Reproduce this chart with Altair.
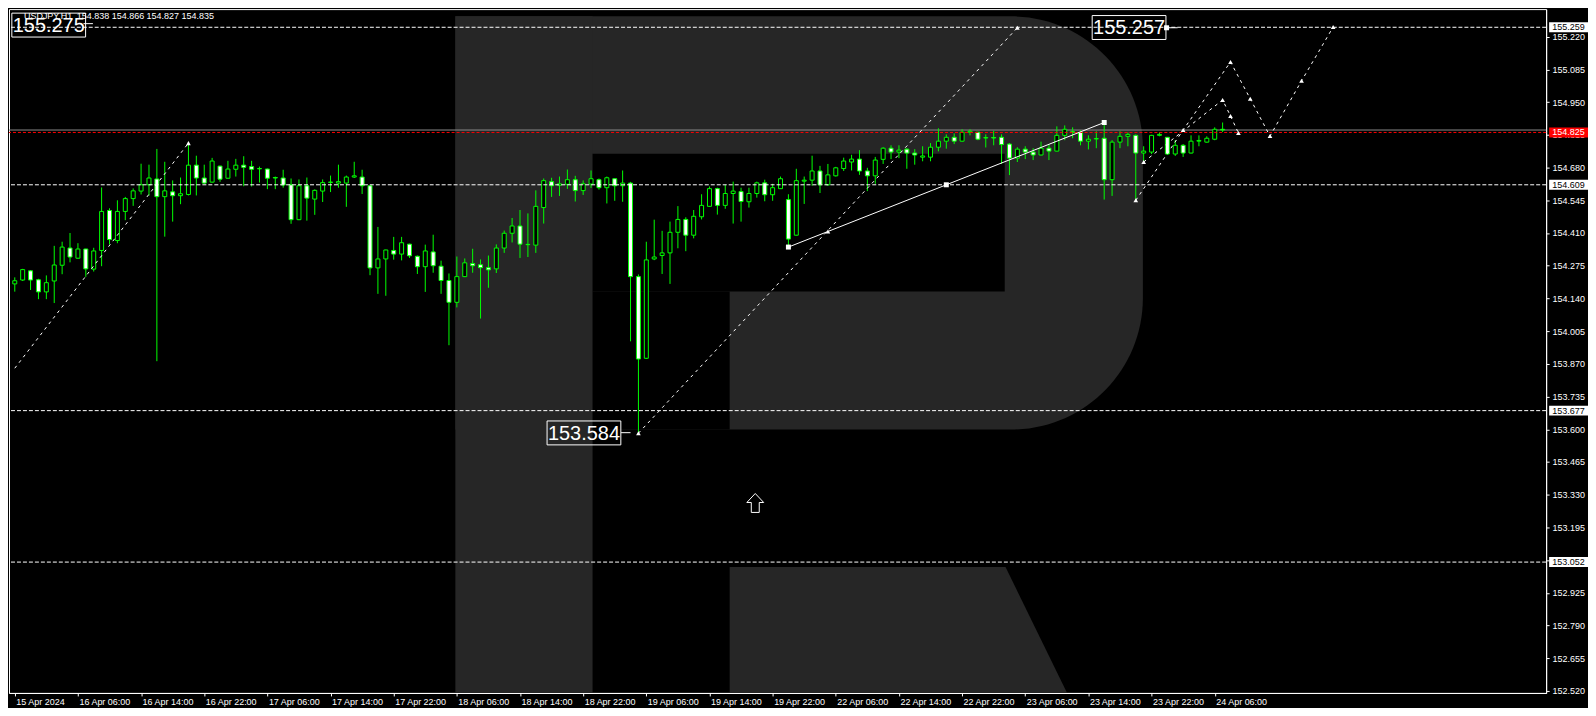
import altair as alt
import pandas as pd

# ---------------- data ----------------
opens = [154.200,154.216,154.254,154.217,154.167,154.212,154.277,154.348,154.306,154.344,
         154.261,154.338,154.503,154.379,154.499,154.552,154.583,154.609,154.633,154.560,
         154.580,154.564,154.569,154.690,154.637,154.620,154.686,154.636,154.673,154.690,
         154.684,154.676,154.674,154.639,154.637,154.609,154.465,154.605,154.550,154.583,
         154.620,154.616,154.616,154.641,154.641,154.605,154.266,154.303,154.338,154.323,
         154.364,154.314,154.271,154.332,154.273,154.214,154.124,154.230,154.284,154.279,
         154.267,154.262,154.348,154.409,154.439,154.362,154.360,154.515,154.622,154.607,
         154.611,154.630,154.585,154.612,154.630,154.597,154.634,154.605,154.616,154.230,
         153.893,154.303,154.317,154.328,154.413,154.466,154.401,154.477,154.520,154.593,
         154.524,154.573,154.581,154.539,154.573,154.617,154.568,154.593,154.548,154.401,
         154.624,154.628,154.666,154.609,154.646,154.676,154.703,154.715,154.666,154.646,
         154.714,154.760,154.744,154.756,154.740,154.723,154.723,154.764,154.789,154.805,
         154.789,154.826,154.826,154.802,154.804,154.805,154.777,154.719,154.756,154.744,
         154.732,154.760,154.748,154.813,154.828,154.825,154.789,154.798,154.801,154.630,
         154.785,154.809,154.813,154.740,154.744,154.813,154.805,154.736,154.772,154.740,
         154.789,154.785,154.797,154.838]
highs = [154.227,154.262,154.257,154.221,154.235,154.357,154.374,154.410,154.368,154.345,
         154.349,154.598,154.512,154.545,154.559,154.594,154.696,154.692,154.757,154.704,
         154.627,154.639,154.776,154.729,154.692,154.720,154.688,154.708,154.716,154.727,
         154.708,154.684,154.676,154.643,154.671,154.635,154.631,154.639,154.590,154.631,
         154.647,154.692,154.647,154.704,154.671,154.607,154.435,154.341,154.394,154.394,
         154.366,154.317,154.362,154.403,154.296,154.243,154.313,154.305,154.345,154.301,
         154.317,154.363,154.420,154.472,154.505,154.491,154.586,154.635,154.638,154.643,
         154.672,154.646,154.627,154.668,154.635,154.643,154.635,154.668,154.621,154.239,
         154.374,154.465,154.419,154.457,154.521,154.475,154.505,154.570,154.602,154.597,
         154.609,154.622,154.597,154.597,154.622,154.630,154.613,154.643,154.570,154.675,
         154.643,154.729,154.687,154.695,154.683,154.721,154.733,154.752,154.679,154.724,
         154.764,154.772,154.772,154.760,154.756,154.768,154.781,154.842,154.817,154.821,
         154.838,154.838,154.827,154.817,154.832,154.817,154.781,154.764,154.768,154.760,
         154.787,154.777,154.850,154.854,154.846,154.834,154.813,154.830,154.874,154.793,
         154.830,154.825,154.817,154.768,154.815,154.825,154.806,154.793,154.777,154.813,
         154.813,154.809,154.846,154.866]
lows = [154.168,154.212,154.175,154.137,154.137,154.121,154.240,154.289,154.304,154.229,
        154.251,154.273,154.363,154.368,154.463,154.522,154.569,154.564,153.881,154.395,
        154.457,154.529,154.565,154.565,154.613,154.618,154.621,154.635,154.643,154.603,
        154.602,154.618,154.591,154.591,154.597,154.448,154.463,154.461,154.485,154.538,
        154.579,154.597,154.518,154.637,154.571,154.236,154.159,154.151,154.300,154.297,
        154.307,154.241,154.167,154.246,154.159,153.947,154.103,154.228,154.246,154.057,
        154.184,154.245,154.328,154.371,154.307,154.311,154.328,154.449,154.559,154.563,
        154.592,154.540,154.567,154.596,154.589,154.532,154.543,154.539,153.963,153.584,
        153.890,154.298,154.241,154.200,154.347,154.335,154.388,154.466,154.518,154.486,
        154.510,154.449,154.457,154.515,154.556,154.541,154.543,154.592,154.355,154.400,
        154.530,154.605,154.575,154.605,154.643,154.666,154.668,154.650,154.583,154.613,
        154.695,154.715,154.719,154.675,154.692,154.706,154.706,154.747,154.758,154.777,
        154.787,154.813,154.793,154.763,154.772,154.695,154.649,154.703,154.715,154.711,
        154.730,154.711,154.747,154.793,154.801,154.772,154.755,154.760,154.548,154.563,
        154.760,154.768,154.545,154.703,154.736,154.809,154.732,154.728,154.724,154.738,
        154.768,154.783,154.793,154.827]
closes = [154.213,154.259,154.216,154.167,154.205,154.278,154.352,154.311,154.344,154.262,
          154.336,154.499,154.383,154.499,154.552,154.584,154.609,154.637,154.560,154.584,
          154.564,154.572,154.690,154.637,154.616,154.707,154.632,154.674,154.690,154.681,
          154.673,154.675,154.636,154.637,154.608,154.465,154.605,154.554,154.586,154.618,
          154.619,154.622,154.641,154.646,154.605,154.266,154.303,154.340,154.323,154.370,
          154.316,154.271,154.336,154.275,154.214,154.124,154.230,154.287,154.275,154.267,
          154.258,154.348,154.409,154.439,154.364,154.363,154.520,154.626,154.605,154.613,
          154.630,154.585,154.613,154.634,154.597,154.638,154.605,154.616,154.230,153.890,
          154.299,154.311,154.328,154.413,154.466,154.401,154.479,154.524,154.593,154.524,
          154.573,154.583,154.540,154.573,154.617,154.568,154.597,154.634,154.385,154.626,
          154.628,154.666,154.609,154.650,154.679,154.707,154.715,154.666,154.646,154.711,
          154.760,154.744,154.752,154.740,154.732,154.728,154.764,154.789,154.805,154.789,
          154.826,154.830,154.797,154.804,154.802,154.775,154.719,154.756,154.744,154.732,
          154.760,154.748,154.813,154.838,154.825,154.789,154.797,154.800,154.630,154.785,
          154.809,154.817,154.740,154.748,154.813,154.817,154.736,154.772,154.740,154.789,
          154.792,154.801,154.838,154.835]
bar_index = list(range(len(opens)))

x_tick_values = [0, 8, 16, 24, 32, 40, 48, 56, 64, 72, 80, 88, 96, 104, 112, 120, 128, 136, 144, 152]
x_tick_labels = ["15 Apr 2024", "16 Apr 06:00", "16 Apr 14:00", "16 Apr 22:00", "17 Apr 06:00",
                 "17 Apr 14:00", "17 Apr 22:00", "18 Apr 06:00", "18 Apr 14:00", "18 Apr 22:00",
                 "19 Apr 06:00", "19 Apr 14:00", "19 Apr 22:00", "22 Apr 06:00", "22 Apr 14:00",
                 "22 Apr 22:00", "23 Apr 06:00", "23 Apr 14:00", "23 Apr 22:00", "24 Apr 06:00"]
y_tick_values = [152.520, 152.655, 152.790, 152.925, 153.060, 153.195, 153.330, 153.465, 153.600,
                 153.735, 153.870, 154.005, 154.140, 154.275, 154.410, 154.545, 154.680, 154.815,
                 154.950, 155.085, 155.220]

level_values = [155.259, 154.609, 153.677, 153.052]
level_labels = ["155.259", "154.609", "153.677", "153.052"]
bid_value = 154.835
ask_value = 154.825
ask_label = "154.825"

header_symbol = "USDJPY,H1"
header_ohlc = "154.838 154.866 154.827 154.835"

# dashed trend / forecast lines (bar index, price)
dash_seg = ["a", "a", "b", "b",
            "c", "c", "c", "c", "c", "c", "c",
            "d", "d", "d", "d"]
dash_x = [0, 22, 79, 127,
          142, 148, 154, 156.5, 159, 163, 167,
          143, 153, 154, 155]
dash_y = [153.852, 154.781, 153.584, 155.257,
          154.545, 154.835, 155.116, 154.964, 154.810, 155.038, 155.260,
          154.703, 154.959, 154.893, 154.823]
solid_x = [98, 118, 138]
solid_y = [154.352, 154.609, 154.866]

arrow_x = [22, 79, 127, 103, 142, 143, 148, 154, 153, 154, 155, 156.5, 159, 163, 167]
arrow_y = [154.781, 153.584, 155.257, 154.416, 154.545, 154.703, 154.835, 155.116, 154.959,
           154.893, 154.823, 154.964, 154.810, 155.038, 155.260]
square_x = [98, 118, 138, 145.9]
square_y = [154.352, 154.609, 154.866, 155.257]

big_label_text = ["155.275", "155.257", "153.584"]
big_label_x = [4.3, 141.15, 72.1]
big_label_y = [155.268, 155.258, 153.585]
conn_x1 = [8.7, 145.8, 76.8]
conn_x2 = [9.9, 147.3, 78.0]
conn_y = [155.274, 155.257, 153.586]

up_arrow_x = [93.8]
up_arrow_y = [153.296]

# background "R" watermark, in chart coordinates
logo_stem = dict(x1=[55.81], x2=[73.19], y1=[152.512], y2=[155.304])
logo_bowl = dict(x1=[55.81], x2=[142.9], y1=[153.599], y2=[155.304])
logo_holes = dict(x1=[73.19, 73.19], x2=[125.4, 90.56], y1=[154.169, 153.599], y2=[154.737, 154.169])
logo_leg = dict(y=[153.032, 152.512], xa=[90.56, 90.56], xb=[125.5, 133.3])

# ---------------- chart ----------------
W, H = 1542, 686
GREEN = "#00ff00"
GREY = "#262626"
FONT = "Liberation Sans"

xs = alt.Scale(domain=[-0.1, 193.35], nice=False, zero=False)
ys = alt.Scale(domain=[152.512, 155.334], nice=False, zero=False)

label_array = "[" + ",".join("'" + s + "'" for s in x_tick_labels) + "]"
x_axis = alt.Axis(values=x_tick_values, labelExpr=label_array + "[round(datum.value/8)]",
                  orient="bottom", tickSize=3, labelAlign="left", labelBaseline="top",
                  labelPadding=2, labelOffset=1, labelFlush=False, labelOverlap=False,
                  grid=False, domainColor="#ffffff", tickColor="#ffffff", labelColor="#ffffff",
                  labelFont=FONT, labelFontSize=9, title=None)
y_axis = alt.Axis(values=y_tick_values, format=".3f", orient="right", tickSize=3,
                  labelPadding=3, labelBaseline="middle", labelFlush=False, labelOverlap=False,
                  grid=False, domainColor="#ffffff", tickColor="#ffffff", labelColor="#ffffff",
                  labelFont=FONT, labelFontSize=9, title=None)


def X(f):
    return alt.X(f"{f}:Q", scale=xs, axis=x_axis, title=None)


def Y(f):
    return alt.Y(f"{f}:Q", scale=ys, axis=y_axis, title=None)


candles = pd.DataFrame({"i": bar_index, "o": opens, "h": highs, "l": lows, "c": closes})

layers = []

# watermark
layers.append(alt.Chart(pd.DataFrame(logo_bowl)).mark_rect(
    color=GREY, cornerRadiusTopRight=132, cornerRadiusBottomRight=132).encode(
    x=X("x1"), x2="x2", y=Y("y1"), y2="y2"))
layers.append(alt.Chart(pd.DataFrame(logo_stem)).mark_rect(color=GREY).encode(
    x=X("x1"), x2="x2", y=Y("y1"), y2="y2"))
layers.append(alt.Chart(pd.DataFrame(logo_holes)).mark_rect(color="#000000").encode(
    x=X("x1"), x2="x2", y=Y("y1"), y2="y2"))
layers.append(alt.Chart(pd.DataFrame(logo_leg)).mark_area(color=GREY, orient="horizontal").encode(
    y=Y("y"), x=X("xa"), x2="xb"))

# bid line
layers.append(alt.Chart(pd.DataFrame({"p": [bid_value]})).mark_rule(
    color="#8c8c8c", strokeWidth=1).encode(y=Y("p")))

# candles
base = alt.Chart(candles)
layers.append(base.mark_rule(color=GREEN, strokeWidth=1).encode(x=X("i"), y=Y("l"), y2="h"))
layers.append(base.mark_bar(size=4, stroke=GREEN, strokeWidth=1).encode(
    x=X("i"), y=Y("o"), y2="c",
    fill=alt.condition("datum.c >= datum.o", alt.value("#000000"), alt.value("#ffffff"))))

# horizontal levels
levels = pd.DataFrame({"p": level_values, "t": level_labels})
layers.append(alt.Chart(levels).mark_rule(color="#ffffff", strokeWidth=1, strokeDash=[4, 2]).encode(
    y=Y("p")))
layers.append(alt.Chart(pd.DataFrame({"p": [ask_value]})).mark_rule(
    color="#ff0000", strokeWidth=1, strokeDash=[3, 2]).encode(y=Y("p")))

# trend lines
dash_df = pd.DataFrame({"seg": dash_seg, "x": dash_x, "y": dash_y, "k": list(range(len(dash_x)))})
layers.append(alt.Chart(dash_df).mark_line(color="#ffffff", strokeWidth=1, strokeDash=[3, 4]).encode(
    x=X("x"), y=Y("y"), detail="seg:N", order="k:Q"))
layers.append(alt.Chart(pd.DataFrame({"x": solid_x, "y": solid_y})).mark_line(
    color="#ffffff", strokeWidth=1).encode(x=X("x"), y=Y("y")))

# markers
layers.append(alt.Chart(pd.DataFrame({"x": arrow_x, "y": arrow_y})).mark_point(
    shape="triangle-up", size=22, filled=True, color="#ffffff", opacity=1).encode(
    x=X("x"), y=Y("y")))
layers.append(alt.Chart(pd.DataFrame({"x": square_x, "y": square_y})).mark_point(
    shape="square", size=25, filled=True, color="#ffffff", opacity=1).encode(
    x=X("x"), y=Y("y")))

# big price labels
big = pd.DataFrame({"t": big_label_text, "x": big_label_x, "y": big_label_y})
conn = pd.DataFrame({"x1": conn_x1, "x2": conn_x2, "y": conn_y})
layers.append(alt.Chart(conn).mark_rule(color="#ffffff", strokeWidth=1).encode(
    x=X("x1"), x2="x2", y=Y("y")))
layers.append(alt.Chart(big).mark_point(
    shape="M-1,-0.3243H1V0.3243H-1Z", size=5476, filled=False, color="#ffffff",
    strokeWidth=1, opacity=1).encode(x=X("x"), y=Y("y")))
layers.append(alt.Chart(big).mark_text(
    font=FONT, fontSize=20, color="#ffffff", align="center",
    baseline="middle", dy=1).encode(x=X("x"), y=Y("y"), text="t:N"))

# up arrow symbol
layers.append(alt.Chart(pd.DataFrame({"x": up_arrow_x, "y": up_arrow_y})).mark_point(
    shape="M0,-1L0.89,-0.05L0.42,-0.05L0.42,1L-0.42,1L-0.42,-0.05L-0.89,-0.05Z",
    size=361, filled=False, color="#ffffff", strokeWidth=1, opacity=1).encode(
    x=X("x"), y=Y("y")))

# header
layers.append(alt.Chart(pd.DataFrame({"t": [header_symbol]})).mark_text(
    font=FONT, fontSize=9, color="#ffffff", align="left", baseline="middle").encode(
    x=alt.value(15), y=alt.value(7), text="t:N"))
layers.append(alt.Chart(pd.DataFrame({"t": [header_ohlc]})).mark_text(
    font=FONT, fontSize=9, color="#ffffff", align="left", baseline="middle").encode(
    x=alt.value(68), y=alt.value(7), text="t:N"))

# right-axis price boxes
box_shape = "M-1,-0.2564H1V0.2564H-1Z"
layers.append(alt.Chart(levels).mark_point(
    shape=box_shape, size=1521, filled=True, color="#ffffff", opacity=1, strokeWidth=0).encode(
    x=alt.value(W + 22.5), y=Y("p")))
layers.append(alt.Chart(levels).mark_text(
    font=FONT, fontSize=9, color="#000000", align="center", baseline="middle").encode(
    x=alt.value(W + 22.5), y=Y("p"), text="t:N"))
ask_df = pd.DataFrame({"p": [ask_value], "t": [ask_label]})
layers.append(alt.Chart(ask_df).mark_point(
    shape=box_shape, size=1521, filled=True, color="#ff0000", opacity=1, strokeWidth=0).encode(
    x=alt.value(W + 22.5), y=Y("p")))
layers.append(alt.Chart(ask_df).mark_text(
    font=FONT, fontSize=9, color="#ffffff", align="center", baseline="middle").encode(
    x=alt.value(W + 22.5), y=Y("p"), text="t:N"))

chart = alt.layer(*layers).properties(
    width=W, height=H,
    padding={"left": 0, "top": 0, "right": 0, "bottom": 0},
    background="#000000",
).configure_view(stroke="#ffffff", strokeWidth=1, fill="#000000")

chart.save("out.html", embed_options={"renderer": "svg", "actions": False})
